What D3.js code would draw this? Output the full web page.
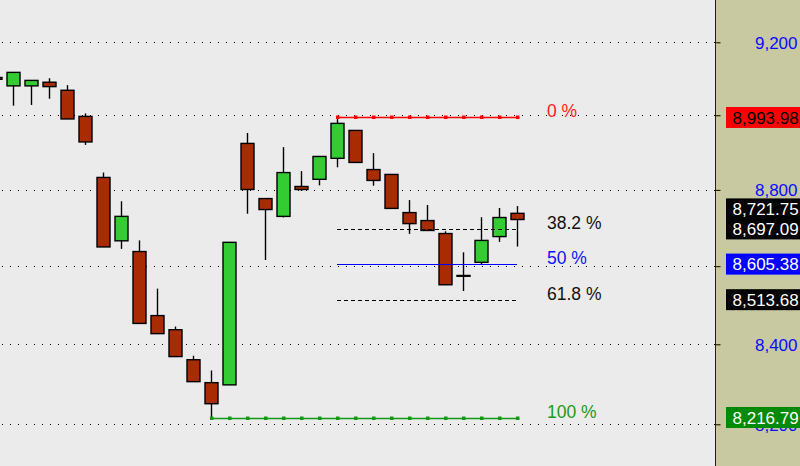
<!DOCTYPE html>
<html>
<head>
<meta charset="utf-8">
<script src="https://cdn.jsdelivr.net/npm/d3@7"></script>
<style>
html,body{margin:0;padding:0;background:#ebebeb;overflow:hidden;}
svg{display:block;}
</style>
</head>
<body>
<svg id="chart" width="800" height="466"></svg>
<script>
// ---- data ----
const bars   = d3.range(30);
const open   = [9103, 9080, 9080, 9090, 9068, 8997, 8833, 8666, 8638, 8473, 8437, 8361, 8303.5, 8298, 8924, 8777, 8730, 8809, 8828, 8884, 8959, 8854, 8841, 8740, 8719, 8685, 8576, 8610, 8677, 8738];
const high   = [9105, 9117, 9095, 9101, 9082, 9005, 8846, 8770, 8667, 8542, 8445, 8371, 8334, 8662, 8952, 8777, 8914, 8850, 8889, 8993.98, 8959, 8898, 8841, 8773, 8760, 8691, 8636, 8728, 8752, 8757];
const low    = [9096, 9026, 9028, 9045, 8990, 8920, 8650, 8645, 8453, 8427, 8369, 8306, 8216.79, 8298, 8737, 8616, 8727, 8797, 8812, 8860, 8873, 8811, 8751, 8684, 8693, 8552, 8536, 8605, 8663, 8651];
const close  = [9098, 9117, 9095, 9078, 8990, 8928, 8650, 8730, 8453, 8427, 8369, 8306, 8251, 8662, 8801, 8748, 8846, 8801, 8889, 8978, 8873, 8825, 8751, 8711, 8693, 8552, 8574, 8667, 8727, 8721.75];
const yTicks = [8200, 8400, 8600, 8800, 9000, 9200];
const yTickLabelsShown = [8200, 8400, 8800, 9200]; // 9,000 and 8,600 are covered by price boxes
const fibRatios = [0, 0.382, 0.5, 0.618, 1];
const fibNames  = ["0 %", "38.2 %", "50 %", "61.8 %", "100 %"];
const fibValues = ["8,993.98", "8,697.09", "8,605.38", "8,513.68", "8,216.79"];
const fibHighIdx = 19, fibLowIdx = 12;
const lastPrice = 8721.75;

// ---- setup ----
const W = 800, H = 466, axisX = 715;
const svg = d3.select("#chart");
const x = d3.scaleLinear().domain([0, 29]).range([-5, 517]);
const y = d3.scaleLog().domain([8200, 9200]).range([424.3, 42.3]);

svg.append("rect").attr("x", 0).attr("y", 0).attr("width", axisX).attr("height", H).attr("fill", "#ebebeb");
svg.append("rect").attr("x", axisX).attr("y", 0).attr("width", W - axisX).attr("height", H).attr("fill", "#c8c8a1");

// gridlines
svg.append("g").selectAll("line").data(yTicks).join("line")
  .attr("x1", 2).attr("x2", axisX)
  .attr("y1", d => Math.round(y(d)) + 0.5).attr("y2", d => Math.round(y(d)) + 0.5)
  .attr("stroke", "#000").attr("stroke-width", 1).attr("stroke-dasharray", "1 7");

// axis
const axis = d3.axisRight(y).tickValues(yTicks).tickSize(5).tickPadding(0)
  .tickFormat(d => yTickLabelsShown.includes(d) ? d3.format(",")(d) : "");
const gAxis = svg.append("g").attr("transform", `translate(${axisX + 0.5},0)`).call(axis);
gAxis.select(".domain").attr("stroke", "#0000ff").attr("d", `M0,0V${H}`);
gAxis.selectAll(".tick line").attr("stroke", "#000");
gAxis.selectAll(".tick text")
  .attr("x", 797 - axisX).attr("text-anchor", "end")
  .attr("fill", "#0a0aff").attr("font-family", "Liberation Sans, Arial, sans-serif")
  .attr("font-size", "17px").attr("dy", "0.36em");

// candles
const cw = 13;
const g = svg.append("g");
bars.forEach(i => {
  const cx = Math.round(x(i)) + 0.5;
  g.append("line").attr("x1", cx).attr("x2", cx)
    .attr("y1", y(high[i])).attr("y2", y(low[i]))
    .attr("stroke", "#000").attr("stroke-width", 1.4);
  const up = close[i] > open[i];
  const top = y(Math.max(open[i], close[i]));
  const bot = y(Math.min(open[i], close[i]));
  const doji = Math.abs(close[i] - open[i]) < 5;
  g.append("rect")
    .attr("x", cx - cw / 2).attr("width", cw)
    .attr("y", top).attr("height", Math.max(bot - top, 0.8))
    .attr("fill", doji ? "#000" : (up ? "#33cc33" : "#a82c00"))
    .attr("stroke", "#000").attr("stroke-width", 1.4);
});

// fibonacci lines
const fHigh = high[fibHighIdx], fLow = low[fibLowIdx];
const levels = fibRatios.map(r => fHigh - r * (fHigh - fLow));
const fibColors = ["#ff0000", "#000000", "#0000ff", "#000000", "#119911"];
const fibText = ["#ff1a1a", "#111111", "#1010ff", "#111111", "#1a9a1a"];
const fg = svg.append("g");
levels.forEach((lv, k) => {
  const yy = Math.round(y(lv)) + 0.5;
  const startIdx = k === 4 ? fibLowIdx : fibHighIdx;
  fg.append("line").attr("x1", x(startIdx)).attr("x2", x(29))
    .attr("y1", yy).attr("y2", yy)
    .attr("stroke", fibColors[k]).attr("stroke-width", k === 0 || k === 4 ? 1.3 : 1)
    .attr("stroke-dasharray", (k === 1 || k === 3) ? "4 3" : null);
  if (k === 0 || k === 4) {
    fg.selectAll(null).data(d3.range(startIdx, 30)).join("rect")
      .attr("x", d => Math.round(x(d)) - 1).attr("y", yy - 2)
      .attr("width", 3.5).attr("height", 3.5).attr("fill", fibColors[k]);
  }
  fg.append("text").attr("x", 547).attr("y", y(lv))
    .attr("font-family", "Liberation Sans, Arial, sans-serif").attr("font-size", "17.5px")
    .attr("fill", fibText[k]).text(fibNames[k]);
});

// price labels on axis
const labels = [
  {v: levels[0], t: fibValues[0], bg: "#ff0000", fg: "#000"},
  {v: lastPrice, t: d3.format(",.2f")(lastPrice), bg: "#000", fg: "#fff"},
  {v: levels[1], t: fibValues[1], bg: "#000", fg: "#fff"},
  {v: levels[2], t: fibValues[2], bg: "#0000ff", fg: "#fff"},
  {v: levels[3], t: fibValues[3], bg: "#000", fg: "#fff"},
  {v: levels[4], t: fibValues[4], bg: "#008a00", fg: "#fff"}
];
const bh = 21;
labels.forEach(l => l.cy = y(l.v));
const sorted = labels.slice().sort((a, b) => b.cy - a.cy);
for (let i = 1; i < sorted.length; i++) {
  const below = sorted[i - 1];
  if (sorted[i].cy + bh / 2 > below.cy - bh / 2 + 1) sorted[i].cy = below.cy - bh + 1;
}
const lg = svg.append("g");
labels.forEach(l => {
  lg.append("rect").attr("x", 726).attr("y", l.cy - bh / 2).attr("width", 80).attr("height", bh).attr("fill", l.bg);
  lg.append("text").attr("x", 732.5).attr("y", l.cy).attr("dy", "0.36em")
    .attr("font-family", "Liberation Sans, Arial, sans-serif").attr("font-size", "17px")
    .attr("fill", l.fg).text(l.t);
});
</script>
</body>
</html>
